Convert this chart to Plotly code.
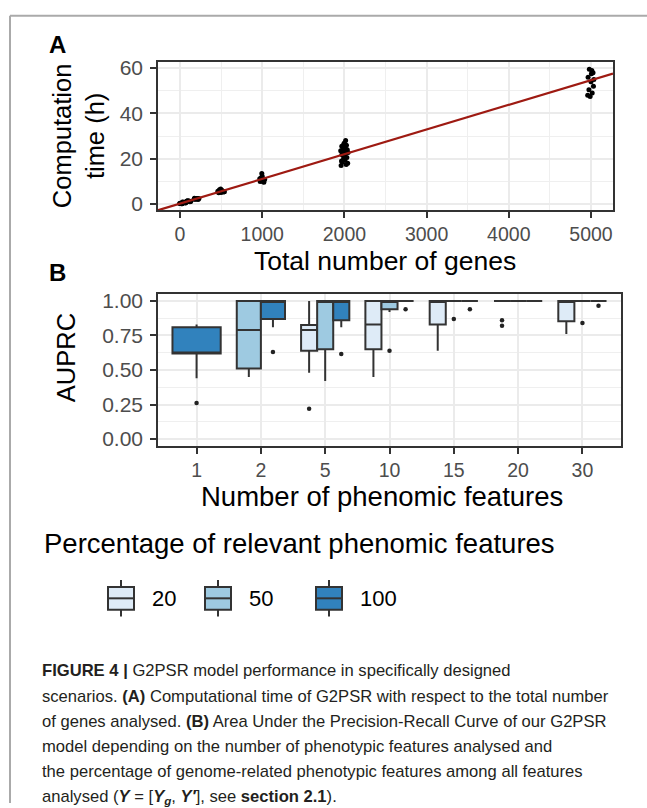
import plotly.graph_objects as go

# ---------------- Panel A data ----------------
genes_10_x = [-5, 8, 20, 30, 15, 2, 25, 12]
genes_10_y = [0.2, 0.3, 0.1, 0.4, 0.25, 0.35, 0.15, 0.3]
genes_50_x = [40, 55, 65, 35, 60, 48, 70, 30]
genes_50_y = [0.6, 0.7, 0.5, 0.8, 0.65, 0.75, 0.55, 0.9]
genes_100_x = [90, 110, 120, 85, 105, 95, 130, 80]
genes_100_y = [1.1, 1.3, 1.0, 1.4, 1.2, 1.5, 1.15, 1.25]
genes_200_x = [185, 205, 220, 175, 210, 195, 230, 170]
genes_200_y = [2.1, 2.4, 2.0, 2.6, 2.3, 2.2, 2.5, 2.15]
genes_500_x = [470, 490, 510, 530, 480, 520, 500, 460, 540, 495]
genes_500_y = [5.0, 5.5, 6.0, 5.3, 6.3, 5.8, 5.1, 5.6, 5.4, 6.6]
genes_1000_x = [975, 990, 1005, 1020, 985, 1010, 995, 1030, 970, 1000, 1015, 992]
genes_1000_y = [10.0, 10.5, 11.0, 9.6, 11.5, 10.2, 13.5, 10.8, 11.2, 12.3, 9.8, 10.6]
genes_2000_x = [1960, 1975, 1990, 2005, 2020, 2035, 1965, 1980, 1995, 2010, 2025, 2040,
                1970, 1985, 2000, 2015, 2030, 1955, 1978, 2008, 2022, 1992, 2045, 1968]
genes_2000_y = [17.0, 18.5, 20.0, 21.0, 22.5, 24.0, 19.0, 21.5, 23.0, 25.0, 26.0, 18.0,
                22.0, 24.5, 27.0, 28.0, 20.5, 23.5, 21.8, 19.5, 17.5, 26.5, 22.8, 25.5]
genes_5000_x = [4980, 5010, 5025, 4965, 5000, 5035, 5030, 4960, 4990, 5015, 4975, 5005]
genes_5000_y = [59.5, 59.0, 58.0, 56.0, 54.0, 55.0, 52.0, 48.0, 47.5, 49.0, 50.5, 57.5]

fit_slope = 0.0109
fit_intercept = 0.2

# ---------------- Panel B data ----------------
n_features = ["1", "2", "5", "10", "15", "20", "30"]
pct_groups = ["20", "50", "100"]
# per group: [q1, median, q3, lower whisker, upper whisker] by category (None = absent)
box_20 = [None, None,
          [0.64, 0.79, 0.825, 0.48, 1.0],
          [0.65, 0.83, 1.0, 0.45, 1.0],
          [0.83, 1.0, 1.0, 0.64, 1.0],
          [1.0, 1.0, 1.0, 1.0, 1.0],
          [0.853, 1.0, 1.0, 0.76, 1.0]]
box_50 = [None,
          [0.51, 0.79, 1.0, 0.45, 1.0],
          [0.65, 1.0, 1.0, 0.42, 1.0],
          [0.94, 1.0, 1.0, 0.92, 1.0],
          [1.0, 1.0, 1.0, 1.0, 1.0],
          [1.0, 1.0, 1.0, 1.0, 1.0],
          [1.0, 1.0, 1.0, 1.0, 1.0]]
box_100 = [[0.62, 0.62, 0.81, 0.44, 0.83],
           [0.87, 1.0, 1.0, 0.81, 1.0],
           [0.86, 1.0, 1.0, 0.81, 1.0],
           [1.0, 1.0, 1.0, 1.0, 1.0],
           [1.0, 1.0, 1.0, 1.0, 1.0],
           [1.0, 1.0, 1.0, 1.0, 1.0],
           [1.0, 1.0, 1.0, 1.0, 1.0]]
out_20 = [[], [], [0.22], [], [], [0.86, 0.82], []]
out_50 = [[], [], [], [0.64], [0.87], [], [0.84]]
out_100 = [[0.26], [0.63], [0.615], [0.94], [0.94], [], [0.965]]

group_colors = ["#DEEBF7", "#9ECAE1", "#3182BD"]
outline = "#333333"

W, H = 647, 808
def px(x):
    return x / W
def py(y):
    return 1 - y / H

fig = go.Figure()

# ---- Panel A ----
xa_range = [-268, 5268]
ya_range = [-2.7, 62.6]
for gx, gy in [(genes_10_x, genes_10_y), (genes_50_x, genes_50_y), (genes_100_x, genes_100_y),
               (genes_200_x, genes_200_y), (genes_500_x, genes_500_y), (genes_1000_x, genes_1000_y),
               (genes_2000_x, genes_2000_y), (genes_5000_x, genes_5000_y)]:
    fig.add_trace(go.Scatter(x=gx, y=gy, mode="markers", marker=dict(color="black", size=5),
                             showlegend=False, xaxis="x", yaxis="y", hoverinfo="skip"))
fig.add_trace(go.Scatter(x=xa_range, y=[fit_intercept + fit_slope * v for v in xa_range],
                         mode="lines", line=dict(color="#9E1A12", width=2.2),
                         showlegend=False, xaxis="x", yaxis="y"))

# ---- Panel B ----
dodge_total = 0.75
for ci in range(len(n_features)):
    present = [(gi, b) for gi, b in enumerate([box_20[ci], box_50[ci], box_100[ci]]) if b is not None]
    n = len(present)
    w = dodge_total / n
    for k, (gi, b) in enumerate(present):
        pos = (ci + 1) - dodge_total / 2 + (k + 0.5) * w
        fig.add_trace(go.Box(x=[pos], q1=[b[0]], median=[b[1]], q3=[b[2]],
                             lowerfence=[b[3]], upperfence=[b[4]], width=w,
                             fillcolor=group_colors[gi], line=dict(color=outline, width=2),
                             whiskerwidth=0, boxpoints=False, showlegend=False,
                             xaxis="x2", yaxis="y2"))
        outs = [out_20, out_50, out_100][gi][ci]
        if outs:
            fig.add_trace(go.Scatter(x=[pos] * len(outs), y=outs, mode="markers",
                                     marker=dict(color="#222222", size=4.5), showlegend=False,
                                     xaxis="x2", yaxis="y2"))

axis_common = dict(showline=True, mirror=True, linecolor=outline, linewidth=1.5,
                   ticks="outside", ticklen=6, tickwidth=1.5, tickcolor=outline,
                   showgrid=True, gridcolor="#EBEBEB", gridwidth=1.8, zeroline=False)
yfont = dict(family="Liberation Sans, Arial", size=21, color="#4D4D4D")
xfont = dict(family="Liberation Sans, Arial", size=19.5, color="#4D4D4D")

fig.update_layout(
    width=W, height=H, margin=dict(l=0, r=0, t=0, b=0),
    paper_bgcolor="white", plot_bgcolor="white", boxmode="overlay", showlegend=False,
    xaxis=dict(domain=[px(158), px(613)], range=xa_range, anchor="y",
               tickvals=[0, 1000, 2000, 3000, 4000, 5000], tickfont=xfont,
               minor=dict(tickvals=[500, 1500, 2500, 3500, 4500], showgrid=True,
                          gridcolor="#EFEFEF", gridwidth=1.2, ticks=""),
               **axis_common),
    yaxis=dict(domain=[py(207), py(57)], range=ya_range, anchor="x",
               tickvals=[0, 20, 40, 60], ticklabelstandoff=3, tickfont=yfont,
               minor=dict(tickvals=[10, 30, 50], showgrid=True, gridcolor="#EFEFEF",
                          gridwidth=1.2, ticks=""),
               **axis_common),
    xaxis2=dict(domain=[px(158), px(621)], range=[0.4, 7.6], anchor="y2",
                tickvals=list(range(1, len(n_features) + 1)), ticktext=n_features, tickfont=xfont,
                **axis_common),
    yaxis2=dict(domain=[py(446), py(292)], range=[-0.05, 1.05], anchor="x2",
                tickvals=[0, 0.25, 0.5, 0.75, 1.0], ticklabelstandoff=3, tickfont=yfont,
                ticktext=["0.00", "0.25", "0.50", "0.75", "1.00"],
                minor=dict(tickvals=[0.125, 0.375, 0.625, 0.875], showgrid=True,
                           gridcolor="#EFEFEF", gridwidth=1.2, ticks=""),
                **axis_common),
)

font_main = "Liberation Sans, Arial"
def ann(text, x, y, size, xanchor="center", yanchor="middle", angle=0, color="black", family=font_main):
    fig.add_annotation(text=text, x=px(x), y=py(y), xref="paper", yref="paper",
                       xanchor=xanchor, yanchor=yanchor, showarrow=False, textangle=angle,
                       font=dict(family=family, size=size, color=color))

ann("<b>A</b>", 57, 39, 24)
ann("<b>B</b>", 57, 270, 24)
ann("Computation<br>time (h)", 78, 132, 25.5, angle=-90)
ann("Total number of genes", 385, 259, 26.5)
ann("AUPRC", 66, 357, 25.5, angle=-90)
ann("Number of phenomic features", 382, 497, 27.5)
ann("Percentage of relevant phenomic features", 299, 545, 27.5)

# manual legend keys
key_centers = [121, 218, 329]
key_labels_x = [150, 247, 358]
for kc, lx, col, lab in zip(key_centers, key_labels_x, group_colors, pct_groups):
    fig.add_shape(type="line", x0=px(kc), x1=px(kc), y0=py(582), y1=py(619), xref="paper", yref="paper",
                  line=dict(color=outline, width=2))
    fig.add_shape(type="rect", x0=px(kc - 13), x1=px(kc + 13), y0=py(589), y1=py(612), xref="paper",
                  yref="paper", fillcolor=col, line=dict(color=outline, width=2))
    fig.add_shape(type="line", x0=px(kc - 13), x1=px(kc + 13), y0=py(600.5), y1=py(600.5), xref="paper",
                  yref="paper", line=dict(color=outline, width=2))
    ann(lab, lx, 601, 22, xanchor="left")

# frame
fig.add_shape(type="line", x0=px(10), x1=1, y0=py(10), y1=py(10), xref="paper", yref="paper",
              line=dict(color="#AAAAAA", width=2))
fig.add_shape(type="line", x0=px(10), x1=px(10), y0=py(10), y1=0, xref="paper", yref="paper",
              line=dict(color="#AAAAAA", width=2))

# caption
cap_font = "Liberation Sans, Arial"
caption_lines = [
    "<b>FIGURE 4 |</b> G2PSR model performance in specifically designed",
    "scenarios. <b>(A)</b> Computational time of G2PSR with respect to the total number",
    "of genes analysed. <b>(B)</b> Area Under the Precision-Recall Curve of our G2PSR",
    "model depending on the number of phenotypic features analysed and",
    "the percentage of genome-related phenotypic features among all features",
    "analysed (<b><i>Y</i></b> = [<b><i>Y<sub>g</sub></i></b>, <b><i>Y′</i></b>], see <b>section 2.1</b>).",
]
for i, line in enumerate(caption_lines):
    ann(line, 40, 674 + i * 25.6, 16.6, xanchor="left", color="#231F20", family=cap_font)

fig.write_html("out.html")
